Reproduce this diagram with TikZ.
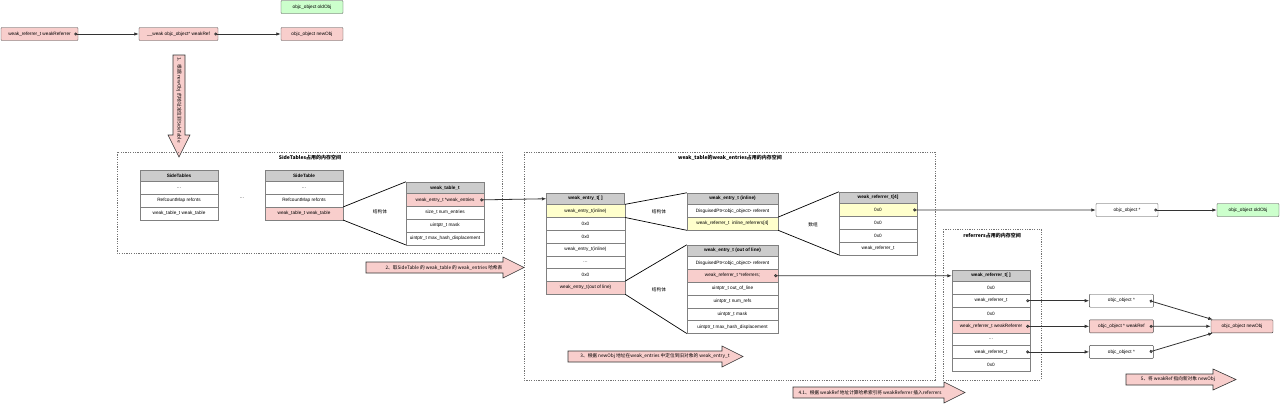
\documentclass[tikz,border=0pt]{standalone}
\usepackage{fontspec}
\setmainfont{Liberation Sans}
\newfontfamily\cjk{Noto Sans CJK SC}
\usepackage{tikz}
\usepackage{xcolor}
\usetikzlibrary{arrows.meta, positioning, calc}

\definecolor{pinkfill}{HTML}{F8CECC}
\definecolor{yellowfill}{HTML}{FFFFCC}
\definecolor{greenfill}{HTML}{CCFFCC}
\definecolor{headfill}{HTML}{CCCCCC}

\tikzset{
  cell/.style={rectangle, draw=black!50, fill=white, minimum width=78pt, minimum height=12.8pt, inner sep=0pt},
  pinkcell/.style={cell, fill=pinkfill},
  yellowcell/.style={cell, fill=yellowfill},
  head/.style={cell, fill=headfill, minimum height=11.5pt, font=\fontsize{4.7}{5.5}\selectfont\bfseries},
  objbox/.style={rectangle, draw=black!75, fill=white, rounded corners=0.8pt, minimum width=62pt, minimum height=13pt, inner sep=0pt},
  ref/.style={draw=black!80, line width=0.8pt, {Circle[open,length=3pt]}-{Latex[length=4.5pt,width=3.5pt]}},
  zoomline/.style={draw=black, line width=0.7pt},
  region/.style={draw=black!55, dash pattern=on 1.2pt off 1.2pt, line width=0.5pt},
  bigarrow/.style={draw=black!80, fill=pinkfill, line width=0.6pt},
  steptext/.style={font=\fontsize{4.7}{5.5}\selectfont\cjk},
  title/.style={font=\fontsize{5}{6}\selectfont\cjk\bfseries}
}

\begin{document}
\begin{tikzpicture}[x=1pt, y=-1pt, font=\fontsize{4.7}{5.5}\selectfont]
\useasboundingbox (0,0) rectangle (1280,405);

% Top row
\node[objbox, fill=greenfill] (oldobj) at (312,7) {objc\_object oldObj};
\node[objbox, fill=pinkfill, minimum width=77pt] (referrer) at (39.5,34) {weak\_referrer\_t weakReferrer};
\node[objbox, fill=pinkfill, minimum width=79pt] (weakref) at (178.5,34) {\_\_weak objc\_object* weakRef};
\node[objbox, fill=pinkfill] (newobj) at (312,34) {objc\_object newObj};
\draw[ref] ([xshift=-4pt]referrer.east) -- (weakref.west);
\draw[ref] ([xshift=-4pt]weakref.east) -- (newobj.west);

% Step 1
\draw[bigarrow] (173,55) -- (185,55) -- (185,135) -- (190,135) -- (179,157) -- (168,135) -- (173,135) -- cycle;
\node[steptext, rotate=-90] (s1) at (179,100) {1、根据 newObj 的地址定位到SideTable};

% SideTables region
\draw[region] (117,152) rectangle (502,253);
\node[title] (t1) at (310,158) {SideTables占用的内存空间};

\node[head] (st1-h) at (179,175.75) {SideTables};
\foreach \t/\s [count=\i] in {\ldots/cell, RefcountMap refcnts/cell, weak\_table\_t weak\_table/cell}
  \node[\s] (st1-\i) at (179,175.1+12.8*\i) {\t};

\node (dots) at (242,198) {\ldots};

\node[head] (st2-h) at (304,175.75) {SideTable};
\foreach \t/\s [count=\i] in {\ldots/cell, RefcountMap refcnts/cell, weak\_table\_t weak\_table/pinkcell}
  \node[\s] (st2-\i) at (304,175.1+12.8*\i) {\t};

\node[head] (wt-h) at (445,187.75) {weak\_table\_t};
\foreach \t/\s [count=\i] in {weak\_entry\_t *weak\_entries/pinkcell, size\_t num\_entries/cell, uintptr\_t mask/cell, uintptr\_t max\_hash\_displacement/cell}
  \node[\s] (wt-\i) at (445,187.1+12.8*\i) {\t};

\draw[zoomline] (st2-3.north east) -- (wt-h.north west);
\draw[zoomline] (st2-3.south east) -- (wt-4.south west);
\node[steptext] (l1) at (380,212) {结构体};

% Step 2
\draw[bigarrow] (366,262) -- (503,262) -- (503,257) -- (524,267.5) -- (503,278) -- (503,273) -- (366,273) -- cycle;
\node[steptext] (s2) at (444,267.5) {2、取SideTable 的 weak\_table 的 weak\_entries 哈希表};

% weak_entries region
\draw[region] (524,152) rectangle (935,380);
\node[title] (t2) at (730,158) {weak\_table的weak\_entries占用的内存空间};

\node[head] (we-h) at (585.5,198.75) {weak\_entry\_t[ ]};
\foreach \t/\s [count=\i] in {weak\_entry\_t(inline)/yellowcell, 0x0/cell, 0x0/cell, weak\_entry\_t(inline)/cell, \ldots/cell, 0x0/cell, weak\_entry\_t(out of line)/pinkcell}
  \node[\s, minimum width=79pt] (we-\i) at (585.5,198.1+12.8*\i) {\t};

\draw[ref] ([xshift=-4pt]wt-1.east) -- (we-h.west);

\node[head, minimum width=91pt] (wi-h) at (732.5,198.75) {weak\_entry\_t (inline)};
\foreach \t/\s [count=\i] in {DisguisedPtr<objc\_object> referent/cell, weak\_referrer\_t\ \ inline\_referrers[4]/yellowcell}
  \node[\s, minimum width=91pt] (wi-\i) at (732.5,198.1+12.8*\i) {\t};

\draw[zoomline] (we-1.north east) -- (wi-h.north west);
\draw[zoomline] (we-1.south east) -- (wi-2.south west);
\node[steptext] (l2) at (659,212) {结构体};

\node[head] (wa-h) at (878,197.75) {weak\_referrer\_t[4]};
\foreach \t/\s [count=\i] in {0x0/yellowcell, 0x0/cell, 0x0/cell, weak\_referrer\_t/cell}
  \node[\s] (wa-\i) at (878,197.1+12.8*\i) {\t};

\draw[zoomline] (wi-2.north east) -- (wa-h.north west);
\draw[zoomline] (wi-2.south east) -- (wa-4.south west);
\node[steptext] (l3) at (813,225) {数组};

\node[head, minimum width=91pt] (wo-h) at (732.5,250.75) {weak\_entry\_t (out of line)};
\foreach \t/\s [count=\i] in {DisguisedPtr<objc\_object> referent/cell, weak\_referrer\_t *referrers;/pinkcell, uintptr\_t out\_of\_line/cell, uintptr\_t num\_refs/cell, uintptr\_t mask/cell, uintptr\_t max\_hash\_displacement/cell}
  \node[\s, minimum width=91pt] (wo-\i) at (732.5,250.1+12.8*\i) {\t};

\draw[zoomline] (we-7.north east) -- (wo-h.north west);
\draw[zoomline] (we-7.south east) -- (wo-6.south west);
\node[steptext] (l4) at (659,290) {结构体};

% Step 3
\draw[bigarrow] (568,351) -- (722,351) -- (722,346) -- (743,356.5) -- (722,367) -- (722,362) -- (568,362) -- cycle;
\node[steptext] (s3) at (655,356.5) {3、根据 newObj 地址在weak\_entries 中定位到旧对象的 weak\_entry\_t};

% old object
\node[objbox] (ptr-old) at (1127,210) {objc\_object *};
\node[objbox, fill=greenfill] (oldobj2) at (1248,210) {objc\_object oldObj};
\draw[ref] ([xshift=-4pt]wa-1.east) -- (ptr-old.west);
\draw[ref] ([xshift=-4pt]ptr-old.east) -- (oldobj2.west);

% referrers region
\draw[region] (943,229) rectangle (1041,380);
\node[title] (t3) at (992,236) {referrers占用的内存空间};

\node[head] (wr-h) at (991,275.75) {weak\_referrer\_t[ ]};
\foreach \t/\s [count=\i] in {0x0/cell, weak\_referrer\_t/cell, 0x0/cell, weak\_referrer\_t weakReferrer/pinkcell, \ldots/cell, weak\_referrer\_t/cell, 0x0/cell}
  \node[\s] (wr-\i) at (991,275.1+12.8*\i) {\t};

\draw[ref] ([xshift=-4pt]wo-2.east) -- (wr-h.west);

% new object
\node[objbox, minimum width=64pt, right=59pt of wr-2] (ptr-1) {objc\_object *};
\node[objbox, minimum width=64pt, fill=pinkfill, right=59pt of wr-4] (ptr-2) {objc\_object * weakRef};
\node[objbox, minimum width=64pt, right=59pt of wr-6] (ptr-3) {objc\_object *};
\node[objbox, fill=pinkfill] (newobj2) at (1242,326.3) {objc\_object newObj};

\draw[ref] ([xshift=-4pt]wr-2.east) -- (ptr-1.west);
\draw[ref] ([xshift=-4pt]wr-4.east) -- (ptr-2.west);
\draw[ref] ([xshift=-4pt]wr-6.east) -- (ptr-3.west);
\draw[ref] ([xshift=-4pt]ptr-1.east) -- ([xshift=2pt]newobj2.north west);
\draw[ref] ([xshift=-4pt]ptr-2.east) -- (newobj2.west);
\draw[ref] ([xshift=-4pt]ptr-3.east) -- ([xshift=2pt]newobj2.south west);

% Step 4.1
\draw[bigarrow] (793,387) -- (944,387) -- (944,382) -- (965,392.5) -- (944,403) -- (944,398) -- (793,398) -- cycle;
\node[steptext] (s4) at (870,392.5) {4.1、根据 weakRef 地址计算哈希索引将 weakReferrer 插入referrers};

% Step 5
\draw[bigarrow] (1126,374) -- (1213,374) -- (1213,369) -- (1236,379.5) -- (1213,390) -- (1213,385) -- (1126,385) -- cycle;
\node[steptext] (s5) at (1178,379.5) {5、将 weakRef 指向新对象 newObj};
\end{tikzpicture}
\end{document}
